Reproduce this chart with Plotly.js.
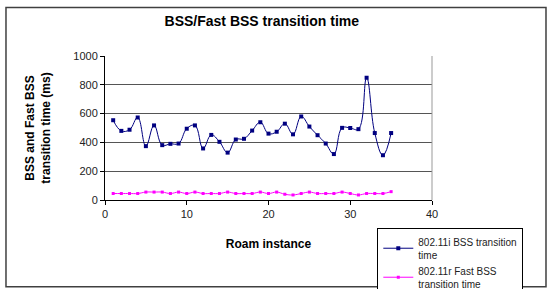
<!DOCTYPE html>
<html><head><meta charset="utf-8">
<script src="https://cdn.plot.ly/plotly-3.0.1.min.js"></script>
<style>body{margin:0;padding:0;background:#fff}#chart{width:550px;height:289px}</style>
</head><body><div id="chart"></div>
<script>
const roamInstance = [1,2,3,4,5,6,7,8,9,10,11,12,13,14,15,16,17,18,19,20,21,22,23,24,25,26,27,28,29,30,31,32,33,34,35];
const bss80211i = [554,480,488,573,374,518,381,390,392,495,518,358,452,404,329,420,425,482,540,461,474,530,456,580,510,450,392,319,501,500,492,849,465,311,465];
const fastBss80211r = [45,45,45,45,55,55,55,45,55,45,55,45,45,45,55,45,45,45,55,45,55,40,35,45,55,45,45,45,55,45,35,45,45,45,58];
const xTicks = [0,10,20,30,40];
const yTicks = [0,200,400,600,800,1000];

const traces = [
  {x: roamInstance, y: bss80211i, name: '802.11i BSS transition<br>time', mode: 'lines+markers',
   line: {color: '#000080', width: 1, shape: 'spline', smoothing: 1.2},
   marker: {symbol: 'square', size: 4, color: '#000080'}},
  {x: roamInstance, y: fastBss80211r, name: '802.11r Fast BSS<br>transition time', mode: 'lines+markers',
   line: {color: '#FF00FF', width: 1, shape: 'spline', smoothing: 1.2},
   marker: {symbol: 'square', size: 3, color: '#FF00FF'}}
];

const layout = {
  width: 550, height: 289,
  margin: {l: 105, r: 118, t: 56, b: 89, autoexpand: false},
  paper_bgcolor: '#fff', plot_bgcolor: '#fff',
  font: {family: 'Arial, "Liberation Sans", sans-serif', size: 11, color: '#222'},
  title: {text: '<b>BSS/Fast BSS transition time</b>', font: {size: 14, color: '#000'}, x: 0.476, xanchor: 'center', y: 0.928, yanchor: 'middle'},
  xaxis: {range: [0, 40], tickvals: xTicks, ticktext: xTicks.map(String), showgrid: false, zeroline: false,
    showline: true, linecolor: '#000', linewidth: 1, ticks: 'outside', ticklen: 4, tickcolor: '#000',
    title: {text: '<b>Roam instance</b>', font: {size: 12, color: '#000'}, standoff: 20}},
  yaxis: {range: [0, 1000], tickvals: yTicks, ticktext: yTicks.map(String), showgrid: true, gridcolor: '#555', gridwidth: 1,
    zeroline: false, showline: true, linecolor: '#000', linewidth: 1, ticks: 'outside', ticklen: 4, tickcolor: '#000',
    title: {text: '<b>BSS and Fast BSS<br>transition time (ms)</b>', font: {size: 12, color: '#000'}, standoff: 20}},
  showlegend: true,
  legend: {xref: 'container', yref: 'container', x: 0.686, xanchor: 'left', y: 0.212, yanchor: 'top', bordercolor: '#000', borderwidth: 1,
    bgcolor: '#fff', font: {size: 10, color: '#222'}, tracegroupgap: 0, itemwidth: 30},
  shapes: [
    {type: 'rect', xref: 'paper', yref: 'paper', x0: -0.3028, x1: 1.3486, y0: -0.603, y1: 1.3375,
     line: {color: '#404040', width: 1.5}, layer: 'below'},
    {type: 'line', xref: 'paper', yref: 'paper', x0: 1, x1: 1, y0: 0, y1: 1, line: {color: '#999', width: 1}}
  ]
};
Plotly.newPlot('chart', traces, layout, {staticPlot: true, displayModeBar: false});
</script></body></html>
